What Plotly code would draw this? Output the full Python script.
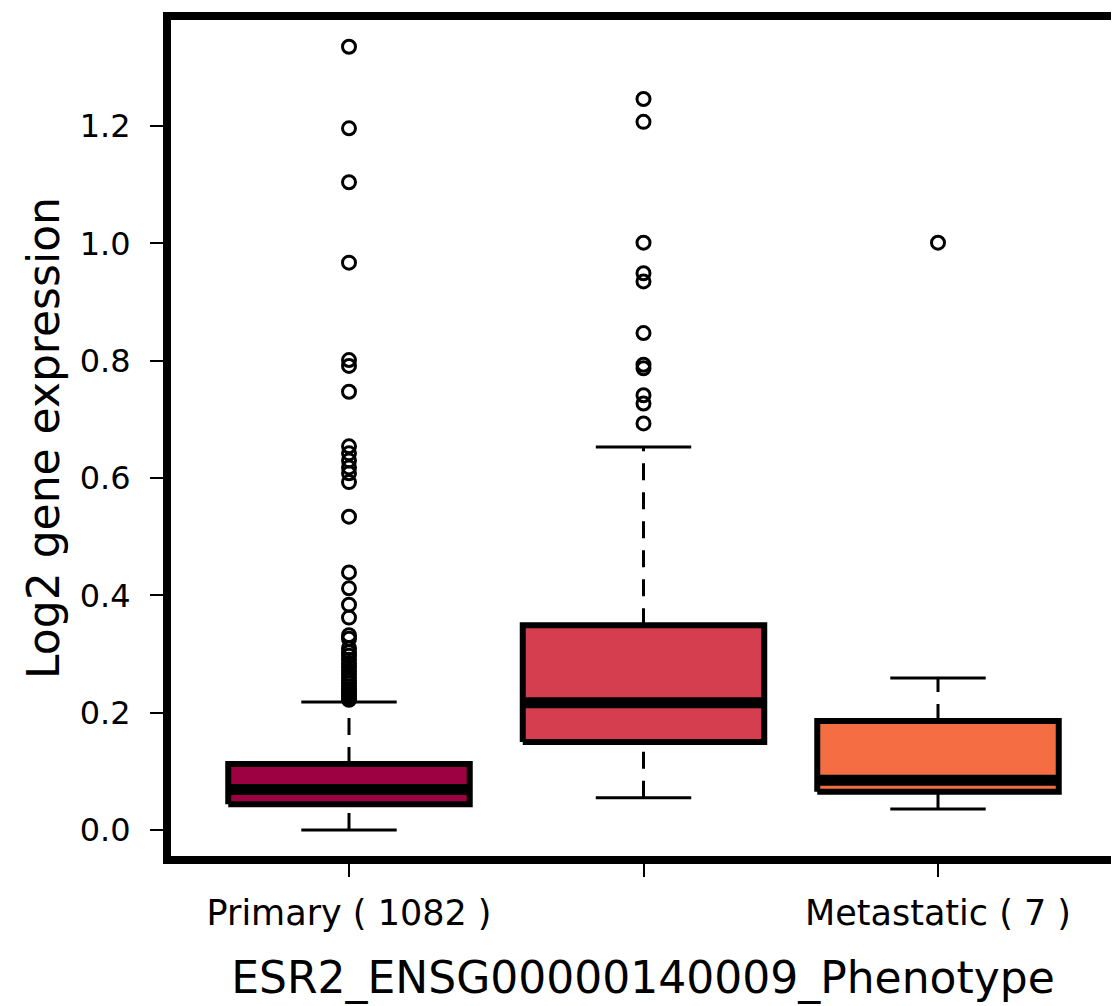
import plotly.graph_objects as go

# ---- data ----
groups = ["Primary", "Normal", "Metastatic"]
tick_labels = ["Primary ( 1082 )", "", "Metastatic ( 7 )"]
colors = ["#9E0142", "#D53E4F", "#F46D43"]

lower_whisker = [0.000, 0.055, 0.036]
q1 = [0.044, 0.150, 0.065]
median = [0.069, 0.217, 0.085]
q3 = [0.1125, 0.349, 0.186]
upper_whisker = [0.218, 0.653, 0.259]

outliers_primary = [1.335, 1.196, 1.104, 0.967, 0.801, 0.791, 0.747, 0.654, 0.642,
                    0.630, 0.618, 0.608, 0.593, 0.534, 0.439, 0.412, 0.384, 0.362,
                    0.332, 0.326, 0.310, 0.303, 0.297, 0.290, 0.284, 0.278, 0.272,
                    0.266, 0.260, 0.255, 0.250, 0.245, 0.240, 0.236, 0.232, 0.228,
                    0.225, 0.222]
outliers_normal = [1.246, 1.207, 1.001, 0.949, 0.935, 0.847, 0.793, 0.787, 0.741,
                   0.727, 0.693]
outliers_metastatic = [1.001]
outliers = [outliers_primary, outliers_normal, outliers_metastatic]

y_ticks = [0.0, 0.2, 0.4, 0.6, 0.8, 1.0, 1.2]

# ---- style ----
HW = 0.41      # half box width (category units)
CAP = 0.162    # half whisker-cap width
FONT = "DejaVu Sans"

fig = go.Figure()

for i in range(len(groups)):
    # dashed whiskers
    for a, b in ((q3[i], upper_whisker[i]), (lower_whisker[i], q1[i])):
        fig.add_trace(go.Scatter(x=[i, i], y=[a, b], mode="lines",
                                 line=dict(color="black", width=3, dash="17px,12px"),
                                 hoverinfo="skip", showlegend=False))
    # caps
    for v in (upper_whisker[i], lower_whisker[i]):
        fig.add_trace(go.Scatter(x=[i - CAP, i + CAP], y=[v, v], mode="lines",
                                 line=dict(color="black", width=3),
                                 hoverinfo="skip", showlegend=False))
    # box
    fig.add_trace(go.Scatter(
        x=[i - HW, i + HW, i + HW, i - HW, i - HW],
        y=[q1[i], q1[i], q3[i], q3[i], q1[i]],
        mode="lines", fill="toself", fillcolor=colors[i],
        line=dict(color="black", width=6),
        hoverinfo="skip", showlegend=False))
    # median
    fig.add_trace(go.Scatter(x=[i - HW, i + HW], y=[median[i], median[i]], mode="lines",
                             line=dict(color="black", width=11),
                             hoverinfo="skip", showlegend=False))
    # outliers
    fig.add_trace(go.Scatter(x=[i] * len(outliers[i]), y=outliers[i], mode="markers",
                             marker=dict(symbol="circle-open", size=13, color="black",
                                         line=dict(width=3, color="black")),
                             showlegend=False))

fig.update_layout(
    width=1111, height=998,
    margin=dict(l=163, r=4, t=12, b=150),
    paper_bgcolor="white", plot_bgcolor="white",
    font=dict(family=FONT, color="black"),
)
fig.update_xaxes(
    range=[-0.6044, 2.601], tickmode="array", tickvals=list(range(len(groups))),
    ticktext=tick_labels, ticks="outside", ticklen=13, tickwidth=1.5, tickcolor="black",
    tickfont=dict(size=35, family=FONT), ticklabelstandoff=6,
    showline=True, linewidth=8, linecolor="black", mirror=True,
    showgrid=False, zeroline=False, automargin=False,
    title=dict(text="ESR2_ENSG00000140009_Phenotype", font=dict(size=44, family=FONT),
               standoff=33),
)
fig.update_yaxes(
    range=[-0.0443, 1.3806], tickmode="array", tickvals=y_ticks,
    ticktext=[f"{v:.1f}" for v in y_ticks], ticks="outside", ticklen=13, tickwidth=1.5,
    tickcolor="black", tickfont=dict(size=32, family=FONT), ticklabelstandoff=13,
    showline=True, linewidth=8, linecolor="black", mirror=True,
    showgrid=False, zeroline=False, automargin=False,
    title=dict(text="Log2 gene expression", font=dict(size=44, family=FONT), standoff=9),
)

fig.write_html("out.html")
